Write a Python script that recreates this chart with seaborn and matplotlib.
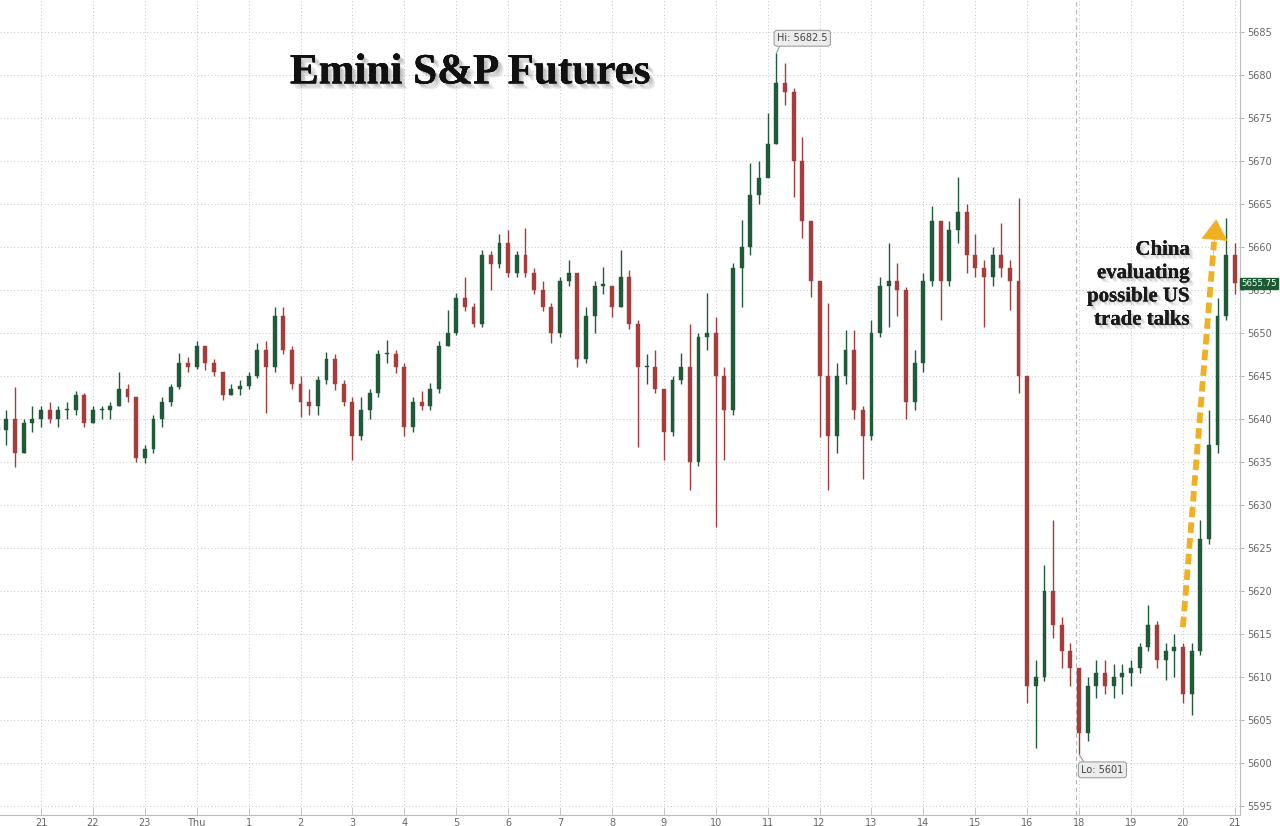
import numpy as np
import pandas as pd
import seaborn as sns
import matplotlib
matplotlib.use("Agg")
import matplotlib.pyplot as plt
import matplotlib.patheffects as pe

#%% data: 10-minute bars, position = bars since 21:00 (17:00-18:00 break skipped)

hour_labels = ["21", "22", "23", "Thu", "1", "2", "3", "4", "5", "6", "7", "8",
               "9", "10", "11", "12", "13", "14", "15", "16", "18", "19", "20", "21"]

first_open = 5639.0

closes = [
    5638.7, 5640, 5636, 5639.5, 5640,
    5641, 5640, 5641, 5641, 5642.8, 5639.5,
    5641, 5641, 5641.5, 5643.5, 5642.5, 5635.5,
    5636.5, 5640, 5642, 5643.7, 5646.5, 5646,
    5648.5, 5646.5, 5645.5, 5642.8, 5643.5, 5643.8,
    5645, 5648, 5646, 5652, 5648, 5644,
    5642, 5641.5, 5644.5, 5647, 5644, 5642,
    5638, 5641, 5643, 5647.5, 5647.5, 5646,
    5639, 5642, 5641.5, 5643.5, 5648.5, 5650,
    5654, 5653, 5651, 5659, 5658, 5660.5,
    5657, 5659, 5657, 5655, 5653, 5650,
    5656, 5657, 5647, 5652, 5655.5, 5655.5,
    5653, 5656.5, 5651, 5646, 5646, 5643.5,
    5638.5, 5644.5, 5646, 5635, 5649.5, 5650,
    5645, 5641, 5657.5, 5660, 5666, 5668,
    5672, 5679, 5678, 5670, 5663, 5656,
    5645, 5638, 5645, 5648, 5641, 5638,
    5650, 5655.5, 5656, 5655, 5642, 5646.5,
    5656, 5663, 5656, 5662, 5664, 5659,
    5657.5, 5656.5, 5659, 5657.5, 5656, 5645,
    5609, 5610, 5620, 5616, 5613, 5611,
    5603.5, 5609, 5610.5, 5609, 5610, 5610.5,
    5611, 5613.5, 5616, 5612, 5613, 5613.5,
    5608, 5613, 5626, 5637, 5652, 5659,
    5655.75,
]

highs = [
    5640, 5641, 5643.7, 5640, 5641.5,
    5641.5, 5642, 5641.5, 5642, 5643.3, 5643,
    5641.5, 5641.5, 5642, 5645.5, 5644, 5642.5,
    5637, 5640.5, 5642.5, 5644, 5647.7, 5647.2,
    5649, 5648.5, 5647, 5645.5, 5644, 5644.5,
    5645.5, 5648.8, 5649, 5653, 5653, 5648.5,
    5645, 5643.5, 5645, 5647.8, 5647.5, 5644.5,
    5642.5, 5642.5, 5643.5, 5648, 5649.2, 5648,
    5646.5, 5642.5, 5643.2, 5644.2, 5649, 5652.7,
    5654.6, 5656.5, 5653.5, 5659.6, 5659.5, 5661.5,
    5662, 5659.5, 5662.2, 5657.5, 5656, 5653.5,
    5656.5, 5658.5, 5657, 5653, 5656, 5657.7,
    5655.5, 5659.6, 5657.3, 5651.5, 5647.5, 5648,
    5643.5, 5645, 5647.7, 5651, 5650, 5654.6,
    5651.9, 5646, 5658.1, 5663.1, 5669.8, 5670,
    5675.6, 5682.5, 5681.4, 5678.5, 5672.8, 5663,
    5656, 5653.5, 5646.5, 5650.3, 5650.3, 5641.5,
    5651.5, 5656.5, 5660.5, 5658.1, 5655.3, 5648,
    5657, 5664.7, 5663, 5663, 5668.1, 5665,
    5661.5, 5658.5, 5660, 5662.8, 5658.5, 5665.7,
    5645, 5612, 5623, 5628.3, 5617, 5614,
    5611, 5610, 5612, 5612, 5611.5, 5611.5,
    5612, 5614, 5618.4, 5616.5, 5614, 5615,
    5614, 5614, 5628.3, 5641, 5654, 5663.3,
    5660.5,
]

lows = [
    5637.5, 5637, 5634.4, 5636, 5638.5,
    5639, 5639.5, 5639, 5640, 5640.5, 5639,
    5639.5, 5640, 5640, 5641.5, 5642, 5635,
    5634.9, 5636, 5639, 5641.5, 5643.5, 5645.5,
    5645.8, 5645.7, 5645, 5642.2, 5642.8, 5642.8,
    5643.5, 5644.8, 5640.7, 5645.5, 5647.5, 5643.5,
    5640.2, 5640.5, 5640.5, 5644, 5643.4, 5641.5,
    5635.2, 5637.5, 5640, 5642.5, 5646.5, 5645.3,
    5638, 5638.5, 5641, 5641, 5643, 5648.5,
    5649.8, 5652.5, 5650.7, 5650.7, 5655, 5657.5,
    5656.5, 5656.5, 5656.5, 5654.5, 5652.5, 5648.8,
    5649.5, 5655.5, 5646, 5646.5, 5650, 5654.5,
    5651.9, 5653, 5650.5, 5636.7, 5644, 5643,
    5635.2, 5638, 5644, 5631.7, 5634.5, 5648,
    5627.4, 5635.2, 5640.5, 5653, 5659, 5665,
    5669, 5672, 5676.5, 5665.8, 5661, 5654.2,
    5637.9, 5631.7, 5636, 5644, 5640, 5633,
    5637.5, 5649.5, 5650.7, 5652, 5640, 5641,
    5645.5, 5655.5, 5651.5, 5655.5, 5660.5, 5657,
    5656.5, 5650.7, 5655.5, 5656.5, 5652.7, 5643,
    5607, 5601.7, 5609.5, 5614.5, 5611, 5609,
    5601, 5602.5, 5607.5, 5608, 5607.5, 5608,
    5609, 5610.5, 5613, 5611, 5609.6, 5610,
    5607, 5605.6, 5612.5, 5625.5, 5636, 5651.5,
    5654.5,
]

#%% frame

df = pd.DataFrame({"close": closes, "high": highs, "low": lows})
df["open"] = [first_open] + closes[:-1]
df["pos"] = np.arange(len(df)) - 5
df["up"] = df["close"] >= df["open"]

green = "#1f5b39"
red = "#a53d3d"

#%% plot

sns.set_theme(style="white")
plt.rcParams["font.family"] = ["DejaVu Sans"]

fig = plt.figure(figsize=(12.8, 8.26), dpi=100)
ax = fig.add_axes([0, 11 / 826, 1240 / 1280, 815 / 826])

hour_pos = np.arange(len(hour_labels)) * 6
ax.set_xticks(hour_pos)
ax.set_xticklabels(hour_labels)
ax.set_yticks(np.arange(5595, 5690, 5))
ax.grid(True, linestyle=(0, (1, 2.5)), color="#c4c4c4", lw=0.7)
ax.set_axisbelow(True)

colors = np.where(df["up"], green, red)
ax.vlines(df["pos"], df["low"], df["high"], colors=colors, lw=1.0, zorder=2)
body_lo = df[["open", "close"]].min(axis=1)
body_h = (df["close"] - df["open"]).abs().clip(lower=0.2)
ax.bar(df["pos"], body_h, bottom=body_lo, width=0.45, color=colors,
       edgecolor=colors, lw=0.3, zorder=3)

# session start line (18:00)
ax.axvline(119.6, color="#b5b5b5", ls=(0, (4, 3)), lw=0.8, zorder=1)

ax.set_xlim(-4.74, 138.6)
ax.set_ylim(5593.95, 5688.7)

ax.yaxis.tick_right()
ax.tick_params(axis="y", which="both", direction="out", length=3, width=0.6,
               color="#aaaaaa", labelsize=7, labelcolor="#666666", pad=2, right=True, left=False)
ax.tick_params(axis="x", direction="in", length=5, width=0.6, color="#bbbbbb",
               labelsize=7, labelcolor="#666666", pad=2, bottom=True)
for side in ["left", "top"]:
    ax.spines[side].set_visible(False)
for side in ["right", "bottom"]:
    ax.spines[side].set_color("#bdbdbd")
    ax.spines[side].set_linewidth(0.8)

#%% hi / lo labels

i_hi = df["high"].idxmax()
i_lo = df["low"].idxmin()
box = dict(boxstyle="round,pad=0.3", fc="#ececec", ec="#a0a0a0", lw=0.8)
ax.annotate(f"Hi: {df.loc[i_hi, 'high']:g}", xy=(df.loc[i_hi, "pos"], df.loc[i_hi, "high"]),
            xytext=(88.0, 5684.25), ha="center", va="center", fontsize=7, color="#444444",
            bbox=box, zorder=6,
            arrowprops=dict(arrowstyle="-", color="#999999", lw=0.8, shrinkA=0, shrinkB=0,
                            relpos=(0.08, 0.0)))
ax.annotate(f"Lo: {df.loc[i_lo, 'low']:g}", xy=(df.loc[i_lo, "pos"], df.loc[i_lo, "low"]),
            xytext=(122.7, 5599.2), ha="center", va="center", fontsize=7, color="#444444",
            bbox=box, zorder=6,
            arrowprops=dict(arrowstyle="-", color="#999999", lw=0.8, shrinkA=0, shrinkB=0,
                            relpos=(0.1, 1.0)))

# last price tag
last = df["close"].iloc[-1]
ax.annotate(f"{last:.2f}", xy=(1.0, last), xycoords=("axes fraction", "data"),
            xytext=(1, 0), textcoords="offset points", ha="left", va="center",
            fontsize=6.2, color="white", annotation_clip=False, zorder=10,
            bbox=dict(boxstyle="square,pad=0.15", fc="#1b5a33", ec="#1b5a33"))

#%% title and annotation

def soft_shadow(d):
    # a few stacked offsets to fake a blurred drop shadow
    return [pe.withSimplePatchShadow(offset=(k, -k), shadow_rgbFace="#777777", alpha=0.16)
            for k in range(1, d + 1)][:-1] + [pe.SimplePatchShadow(offset=(d, -d),
            shadow_rgbFace="#777777", alpha=0.16), pe.Normal()]

ax.text(0.379, 0.91, "Emini S&P Futures", transform=ax.transAxes, ha="center", va="center",
        fontsize=31, fontweight="bold", family="Liberation Serif", color="#111111",
        path_effects=soft_shadow(4), zorder=7)
ax.text(132.8, 5655.6, "China\nevaluating\npossible US\ntrade talks", ha="right", va="center",
        fontsize=15, fontweight="bold", family="Liberation Serif", color="#1a1a1a",
        linespacing=1.22, path_effects=soft_shadow(3), zorder=7)

orange = "#f0b024"
ax.plot([132.0, 135.6], [5615.8, 5660.6], color=orange, lw=4.2, ls=(0, (1.8, 0.9)),
        solid_capstyle="butt", zorder=8)
ax.annotate("", xy=(135.85, 5663.2), xytext=(135.45, 5658.5),
            arrowprops=dict(arrowstyle="-|>,head_length=0.7,head_width=0.45", color=orange,
                            lw=0.5, mutation_scale=20, shrinkA=0, shrinkB=0), zorder=8)

fig.savefig("out.png", dpi=100, facecolor="white")
